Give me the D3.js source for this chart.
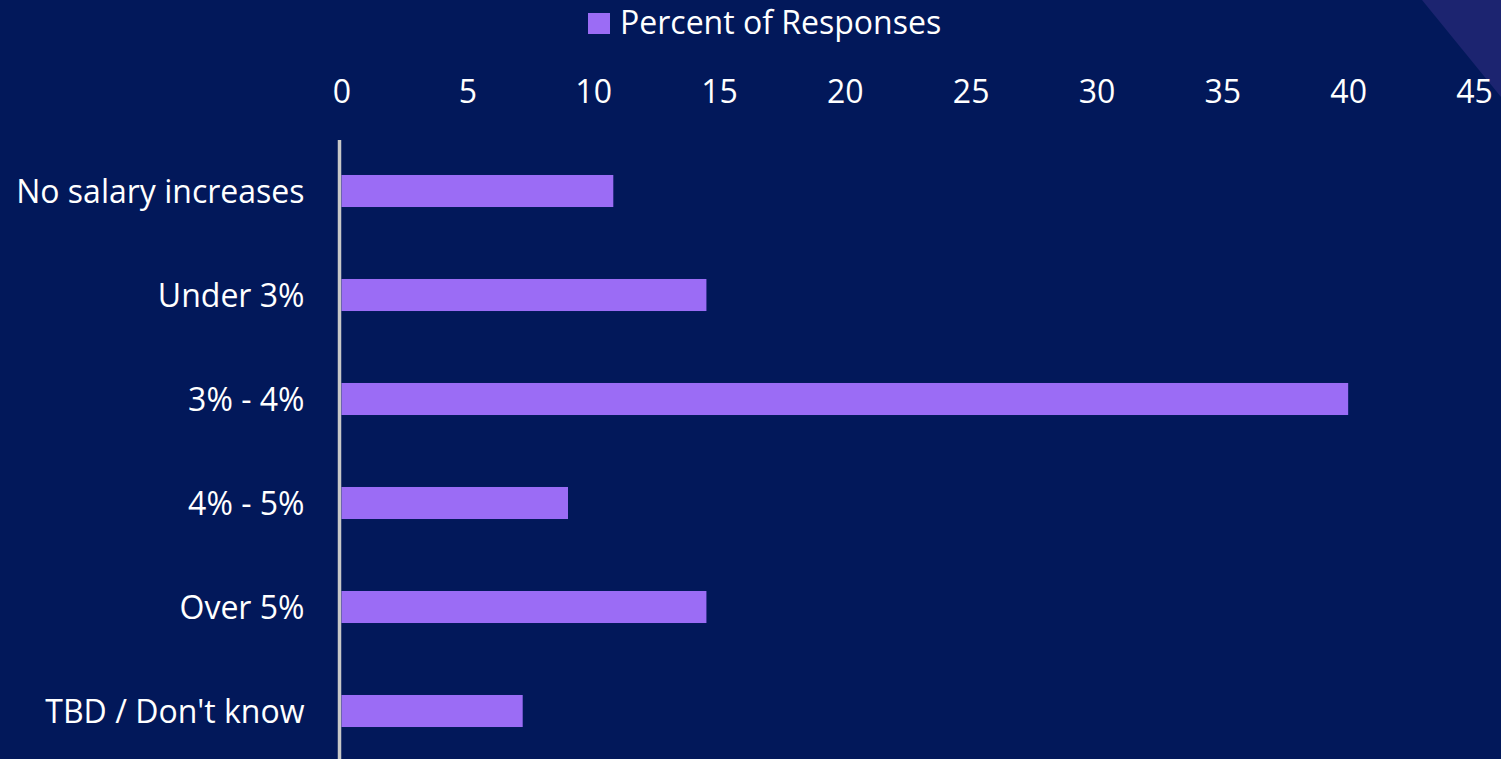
<!DOCTYPE html>
<html><head><meta charset="utf-8">
<script src="https://cdn.jsdelivr.net/npm/d3@7"></script>
<style>html,body{margin:0;padding:0;background:#02185a;overflow:hidden}</style>
</head><body>
<script>
const categories = ["No salary increases","Under 3%","3% - 4%","4% - 5%","Over 5%","TBD / Don't know"];
const values = [10.8, 14.5, 40, 9.0, 14.5, 7.2];
const tickValues = [0,5,10,15,20,25,30,35,40,45];
const seriesName = "Percent of Responses";

const W = 1501, H = 759;
const font = "'Open Sans', Lato, sans-serif";
const fs = 32;
const svg = d3.select("body").append("svg").attr("width", W).attr("height", H);
svg.append("rect").attr("width", W).attr("height", H).attr("fill", "#02185a");
svg.append("polygon").attr("points", "1422,0 1501,0 1501,97").attr("fill", "#1c2470");

const x = d3.scaleLinear().domain([0,45]).range([341.5, 1474]);
const y = d3.scaleBand().domain(categories).range([139, 763]).paddingInner(0.692).paddingOuter(0.346);

// top axis labels
const xAxis = d3.axisTop(x).tickValues(tickValues).tickSize(0).tickPadding(0);
const gx = svg.append("g").attr("transform", "translate(0,103)").call(xAxis);
gx.select(".domain").remove();
gx.selectAll("text").attr("fill", "#ffffff").attr("font-family", font).attr("font-size", fs).attr("dy", 0);

// bars
svg.append("g").selectAll("rect").data(values).join("rect")
  .attr("x", x(0))
  .attr("y", (d,i) => y(categories[i]))
  .attr("width", d => x(d) - x(0))
  .attr("height", y.bandwidth())
  .attr("fill", "#9b6cf5");

// category axis
const yAxis = d3.axisLeft(y).tickSize(0).tickPadding(37);
const gy = svg.append("g").attr("transform", `translate(${x(0)},0)`).call(yAxis);
gy.select(".domain").remove();
gy.selectAll("text").attr("fill", "#ffffff").attr("font-family", font).attr("font-size", fs).attr("dy", "0.38em");
svg.append("line").attr("x1", x(0)-2).attr("x2", x(0)-2).attr("y1", 140).attr("y2", H)
  .attr("stroke", "#c8c8c8").attr("stroke-width", 3.5);

// legend
const lg = svg.append("g");
lg.append("rect").attr("x", 588).attr("y", 13).attr("width", 22).attr("height", 21).attr("fill", "#9b6cf5");
lg.append("text").attr("x", 620).attr("y", 34).attr("fill", "#ffffff").attr("font-family", font).attr("font-size", fs).text(seriesName);
</script>
</body></html>
